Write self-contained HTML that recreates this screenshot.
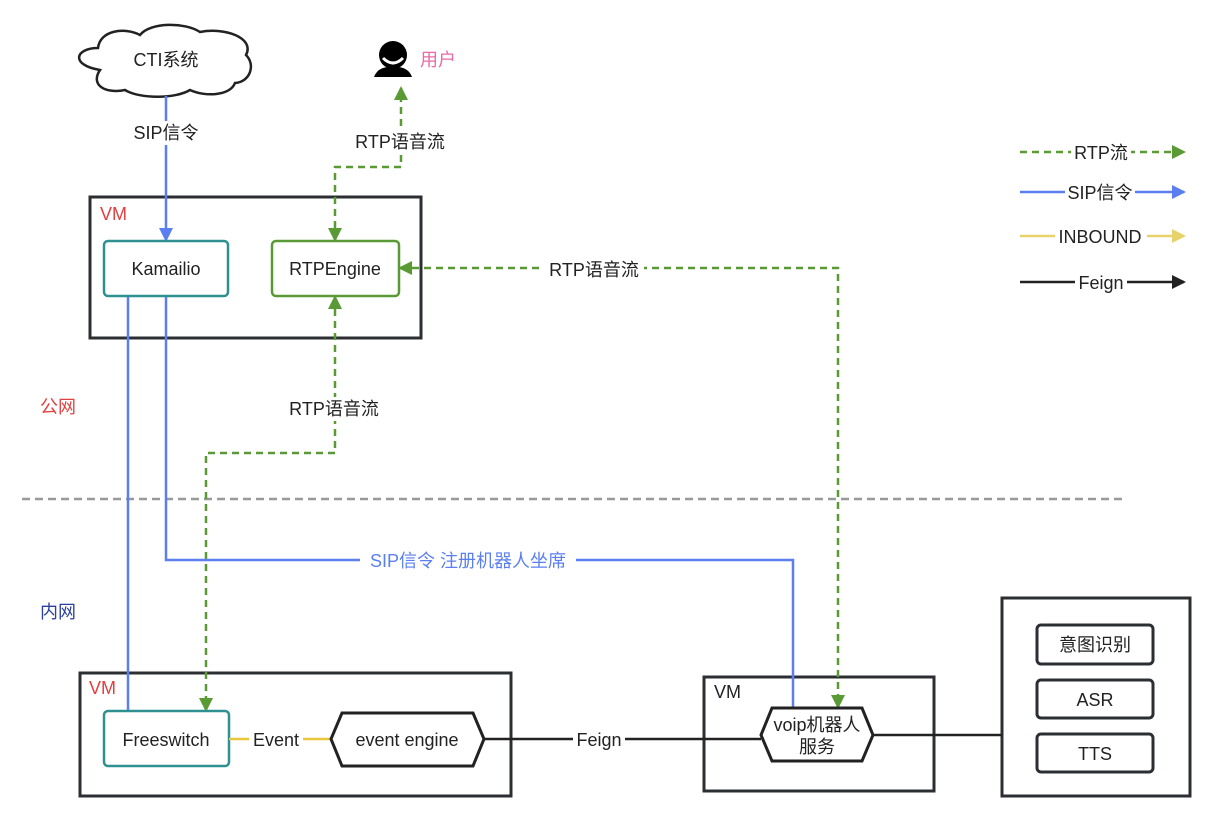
<!DOCTYPE html>
<html><head><meta charset="utf-8"><style>
html,body{margin:0;padding:0;background:#fff;}
svg{display:block;}
text{font-family:"Liberation Sans","Noto Sans CJK SC",sans-serif;font-size:18px;fill:#222;}
</style></head><body>
<svg width="1214" height="821" viewBox="0 0 1214 821" xmlns="http://www.w3.org/2000/svg">
<defs>
<marker id="ag" markerWidth="14" markerHeight="14" refX="12" refY="7" orient="auto-start-reverse" markerUnits="userSpaceOnUse"><path d="M0,0 L14,7 L0,14 Z" fill="#5a9a35"/></marker>
<marker id="ab" markerWidth="14" markerHeight="14" refX="12" refY="7" orient="auto" markerUnits="userSpaceOnUse"><path d="M0,0 L14,7 L0,14 Z" fill="#5b7ff0"/></marker>
<marker id="ay" markerWidth="14" markerHeight="14" refX="12" refY="7" orient="auto" markerUnits="userSpaceOnUse"><path d="M0,0 L14,7 L0,14 Z" fill="#e8d36a"/></marker>
<marker id="ak" markerWidth="14" markerHeight="14" refX="12" refY="7" orient="auto" markerUnits="userSpaceOnUse"><path d="M0,0 L14,7 L0,14 Z" fill="#222"/></marker>
</defs>
<!-- cloud -->
<path d="M100,70 C70,65 75,48 98,48 C100,30 125,27 140,35 C150,22 185,22 200,32 C225,27 255,38 246,55 C256,65 250,82 235,83 C230,96 205,97 190,90 C175,99 140,99 125,90 C105,94 90,85 100,70 Z" fill="#fff" stroke="#222" stroke-width="2.5"/>
<text x="166" y="66" text-anchor="middle">CTI系统</text>
<!-- user -->
<circle cx="393" cy="55" r="14" fill="#000"/>
<path d="M383,58 Q393,68 403,58" stroke="#fff" stroke-width="3" fill="none"/>
<path d="M374,77 Q378,66 393,67 Q408,66 412,77 Z" fill="#000"/>
<text x="420" y="66" style="fill:#e86aa8">用户</text>
<!-- dashed divider -->
<line x1="22" y1="499" x2="1125" y2="499" stroke="#999" stroke-width="2.5" stroke-dasharray="8,5"/>
<text x="40" y="413" style="fill:#e04040">公网</text>
<text x="40" y="618" style="fill:#2a3fa0">内网</text>
<!-- VM boxes -->
<rect x="90" y="197" width="331" height="141" fill="none" stroke="#2b2f33" stroke-width="3"/>
<text x="100" y="220" style="fill:#e04040">VM</text>
<rect x="80" y="673" width="431" height="123" fill="none" stroke="#2b2f33" stroke-width="3"/>
<text x="89" y="694" style="fill:#e04040">VM</text>
<rect x="704" y="677" width="230" height="114" fill="none" stroke="#2b2f33" stroke-width="3"/>
<text x="714" y="698">VM</text>
<rect x="1002" y="598" width="188" height="198" fill="none" stroke="#2b2f33" stroke-width="3"/>
<rect x="1037" y="625" width="116" height="39" rx="4" fill="#fff" stroke="#2b2f33" stroke-width="3"/>
<text x="1095" y="651" text-anchor="middle">意图识别</text>
<rect x="1037" y="680" width="116" height="38" rx="4" fill="#fff" stroke="#2b2f33" stroke-width="3"/>
<text x="1095" y="706" text-anchor="middle">ASR</text>
<rect x="1037" y="734" width="116" height="38" rx="4" fill="#fff" stroke="#2b2f33" stroke-width="3"/>
<text x="1095" y="760" text-anchor="middle">TTS</text>
<!-- blue lines -->
<line x1="166" y1="96" x2="166" y2="240" stroke="#5b7ff0" stroke-width="2.5" marker-end="url(#ab)"/>
<rect x="130" y="121" width="72" height="24" fill="#fff"/>
<text x="166" y="139" text-anchor="middle">SIP信令</text>
<line x1="128" y1="296" x2="128" y2="711" stroke="#5b7ff0" stroke-width="2.5"/>
<polyline points="166,296 166,560 793,560 793,708" fill="none" stroke="#5b7ff0" stroke-width="2.5"/>
<rect x="360" y="549" width="216" height="24" fill="#fff"/>
<text x="468" y="567" text-anchor="middle" style="fill:#5b7ff0">SIP信令 注册机器人坐席</text>
<!-- green dashed -->
<g fill="none" stroke="#5a9a35" stroke-width="2.5" stroke-dasharray="7,5">
<polyline points="335,240 335,167 401,167 401,88" marker-start="url(#ag)" marker-end="url(#ag)"/>
<polyline points="400,268 838,268 838,707" marker-start="url(#ag)" marker-end="url(#ag)"/>
<polyline points="335,297 335,453 206,453 206,710" marker-start="url(#ag)" marker-end="url(#ag)"/>
</g>
<rect x="350" y="130" width="100" height="24" fill="#fff"/>
<text x="400" y="148" text-anchor="middle">RTP语音流</text>
<rect x="544" y="257" width="100" height="24" fill="#fff"/>
<text x="594" y="276" text-anchor="middle">RTP语音流</text>
<rect x="284" y="397" width="100" height="24" fill="#fff"/>
<text x="334" y="415" text-anchor="middle">RTP语音流</text>
<!-- nodes -->
<rect x="104" y="241" width="124" height="55" rx="4" fill="#fff" stroke="#2e9090" stroke-width="2.5"/>
<text x="166" y="275" text-anchor="middle">Kamailio</text>
<rect x="272" y="241" width="127" height="55" rx="4" fill="#fff" stroke="#5a9a35" stroke-width="2.5"/>
<text x="335" y="275" text-anchor="middle">RTPEngine</text>
<rect x="104" y="711" width="125" height="55" rx="4" fill="#fff" stroke="#2e9090" stroke-width="2.5"/>
<text x="166" y="746" text-anchor="middle">Freeswitch</text>
<!-- yellow Event -->
<line x1="229" y1="739" x2="331" y2="739" stroke="#e8c83a" stroke-width="2.5"/>
<rect x="249" y="728" width="54" height="22" fill="#fff"/>
<text x="276" y="746" text-anchor="middle">Event</text>
<polygon points="342,713 473,713 484,739 473,766 342,766 331,739" fill="#fff" stroke="#222" stroke-width="3"/>
<text x="407" y="746" text-anchor="middle">event engine</text>
<!-- Feign -->
<line x1="484" y1="739" x2="761" y2="739" stroke="#222" stroke-width="2.5"/>
<rect x="573" y="728" width="52" height="22" fill="#fff"/>
<text x="599" y="746" text-anchor="middle">Feign</text>
<line x1="873" y1="735" x2="1002" y2="735" stroke="#222" stroke-width="2.5"/>
<polygon points="772,708 862,708 873,735 862,761 772,761 761,735" fill="#fff" stroke="#222" stroke-width="3"/>
<text x="817" y="731" text-anchor="middle">voip机器人</text>
<text x="817" y="753" text-anchor="middle">服务</text>
<!-- legend -->
<line x1="1020" y1="152" x2="1184" y2="152" stroke="#5a9a35" stroke-width="2.5" stroke-dasharray="7,5" marker-end="url(#ag)"/>
<rect x="1071" y="141" width="60" height="22" fill="#fff"/>
<text x="1101" y="159" text-anchor="middle">RTP流</text>
<line x1="1020" y1="192" x2="1184" y2="192" stroke="#5b7ff0" stroke-width="2.5" marker-end="url(#ab)"/>
<rect x="1065" y="181" width="70" height="22" fill="#fff"/>
<text x="1100" y="199" text-anchor="middle">SIP信令</text>
<line x1="1020" y1="236" x2="1184" y2="236" stroke="#e8d36a" stroke-width="2.5" marker-end="url(#ay)"/>
<rect x="1055" y="225" width="92" height="22" fill="#fff"/>
<text x="1100" y="243" text-anchor="middle">INBOUND</text>
<line x1="1020" y1="282" x2="1184" y2="282" stroke="#222" stroke-width="2.5" marker-end="url(#ak)"/>
<rect x="1075" y="271" width="52" height="22" fill="#fff"/>
<text x="1101" y="289" text-anchor="middle">Feign</text>
</svg>
</body></html>
